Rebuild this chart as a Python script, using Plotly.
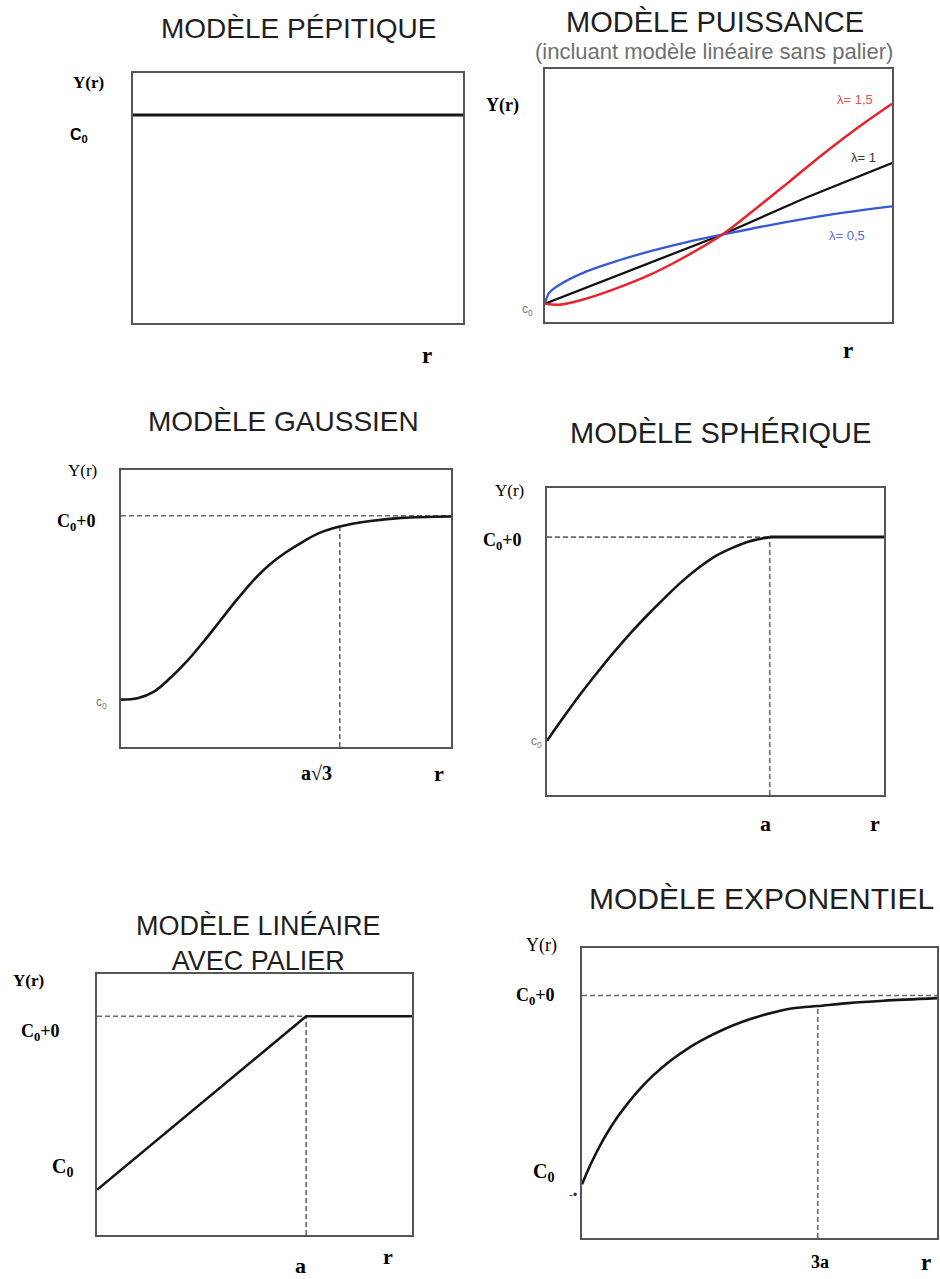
import plotly.graph_objects as go

W, H = 940, 1279

# ---------------- data (normalised 0..1 inside each frame) ----------------
pepitique_x = [0.0, 1.0]
pepitique_y = [0.832, 0.832]

puissance_red_x = [0.0, 0.04, 0.1, 0.2, 0.3, 0.4, 0.51, 0.6, 0.7, 0.8, 0.9, 1.0]
puissance_red_y = [0.072, 0.068, 0.085, 0.13, 0.185, 0.255, 0.345, 0.44, 0.55, 0.662, 0.767, 0.863]
puissance_black_x = [0.0, 0.26, 0.51, 0.75, 1.0]
puissance_black_y = [0.072, 0.21, 0.345, 0.49, 0.628]
puissance_blue_x = [0.0, 0.012, 0.048, 0.12, 0.216, 0.3125, 0.409, 0.51, 0.649, 0.841, 1.0]
puissance_blue_y = [0.072, 0.115, 0.152, 0.2, 0.245, 0.283, 0.316, 0.345, 0.383, 0.428, 0.457]
puissance_labels = ["λ= 1,5", "λ= 1", "λ= 0,5"]

gauss_x = [0.0, 0.05, 0.1, 0.15, 0.2, 0.25, 0.3, 0.35, 0.4, 0.45, 0.5, 0.55, 0.6, 0.663, 0.75, 0.85, 1.0]
gauss_y = [0.171, 0.176, 0.2, 0.25, 0.31, 0.38, 0.455, 0.53, 0.6, 0.658, 0.703, 0.74, 0.772, 0.796, 0.815, 0.827, 0.832]
gauss_sill = 0.835
gauss_range_x = 0.663
gauss_range_y = 0.796

spher_x = [0.0, 0.05, 0.1, 0.15, 0.2, 0.25, 0.3, 0.35, 0.4, 0.45, 0.5, 0.55, 0.6, 0.661]
spher_y = [0.177, 0.255, 0.33, 0.40, 0.467, 0.53, 0.588, 0.643, 0.695, 0.74, 0.778, 0.805, 0.826, 0.840]
spher_plateau_x = [0.661, 1.0]
spher_sill = 0.840
spher_range_x = 0.661

lin_x = [0.0, 0.664, 1.0]
lin_y = [0.173, 0.838, 0.838]
lin_sill = 0.838
lin_range_x = 0.664

expo_x = [0.0, 0.02, 0.04, 0.06, 0.08, 0.1, 0.13, 0.16, 0.2, 0.25, 0.3, 0.35, 0.4, 0.45,
          0.5, 0.55, 0.6, 0.664, 0.75, 0.85, 1.0]
expo_y = [0.185, 0.242, 0.293, 0.339, 0.38, 0.417, 0.466, 0.51, 0.56, 0.612, 0.655, 0.69, 0.72, 0.745,
          0.765, 0.781, 0.793, 0.80, 0.81, 0.818, 0.827]
expo_sill = 0.836
expo_range_x = 0.664
expo_range_y = 0.80

titles = ["MODÈLE PÉPITIQUE", "MODÈLE PUISSANCE", "MODÈLE GAUSSIEN",
          "MODÈLE SPHÉRIQUE", "MODÈLE LINÉAIRE<br>AVEC PALIER", "MODÈLE EXPONENTIEL"]
subtitle = "(incluant modèle linéaire sans palier)"

# ---------------- layout helpers ----------------
boxes = [  # left, top, right, bottom in pixels
    (133, 73, 463, 323),
    (545, 69, 892, 322),
    (121, 470, 451, 747),
    (547, 488, 884, 795),
    (97, 974, 412, 1235),
    (582, 948, 937, 1238),
]

def px(x):
    return x / W

def py(y):
    return 1 - y / H

fig = go.Figure()
layout = dict(width=W, height=H, margin=dict(l=0, r=0, t=0, b=0),
              paper_bgcolor="white", plot_bgcolor="white", showlegend=False)

for i, (l, t, r, b) in enumerate(boxes):
    n = "" if i == 0 else str(i + 1)
    ax = dict(domain=[px(l), px(r)], range=[0, 1], showline=True, mirror=True,
              linecolor="#555555", linewidth=2, showgrid=False, zeroline=False,
              showticklabels=False, ticks="", fixedrange=True)
    layout["xaxis" + n] = dict(ax, anchor="y" + n)
    layout["yaxis" + n] = dict(ax, domain=[py(b), py(t)], anchor="x" + n)

fig.update_layout(**layout)

BLACK = "#151515"
DASH = dict(color="#6a6a6a", width=1.6, dash="5px,3px")

def line(x, y, k, color=BLACK, width=2.6, shape="spline", dash=None):
    ln = dict(color=color, width=width, shape=shape)
    if dash:
        ln = dict(dash)
    fig.add_trace(go.Scatter(x=x, y=y, mode="lines", line=ln,
                             xaxis="x" + ("" if k == 1 else str(k)),
                             yaxis="y" + ("" if k == 1 else str(k)),
                             hoverinfo="skip"))

# Panel 1
line(pepitique_x, pepitique_y, 1, shape="linear", width=3)
# Panel 2
line(puissance_black_x, puissance_black_y, 2, color="#111111", width=2.3, shape="linear")
line(puissance_blue_x, puissance_blue_y, 2, color="#3558d6", width=2.3)
line(puissance_red_x, puissance_red_y, 2, color="#e8232b", width=2.5)
# Panel 3
line([0, 1], [gauss_sill, gauss_sill], 3, dash=DASH)
line([gauss_range_x, gauss_range_x], [0, gauss_range_y], 3, dash=DASH)
line(gauss_x, gauss_y, 3)
# Panel 4
line([0, spher_range_x], [spher_sill, spher_sill], 4, dash=DASH)
line([spher_range_x, spher_range_x], [0, spher_sill], 4, dash=DASH)
line(spher_x, spher_y, 4)
line(spher_plateau_x, [spher_sill, spher_sill], 4, shape="linear", width=3)
# Panel 5
line([0, lin_range_x], [lin_sill, lin_sill], 5, dash=DASH)
line([lin_range_x, lin_range_x], [0, lin_sill], 5, dash=DASH)
line(lin_x, lin_y, 5, shape="linear")
# Panel 6
line([0, 1], [expo_sill, expo_sill], 6, dash=DASH)
line([expo_range_x, expo_range_x], [0, expo_range_y], 6, dash=DASH)
line(expo_x, expo_y, 6)

# ---------------- text ----------------
SANS = "Liberation Sans, Arial, sans-serif"
SERIF = "Liberation Serif, Times New Roman, serif"

def text(s, x, y, size, family=SERIF, color="black", bold=False, xanchor="center"):
    if bold:
        s = "<b>" + s + "</b>"
    fig.add_annotation(text=s, x=px(x), y=py(y), xref="paper", yref="paper",
                       showarrow=False, xanchor=xanchor, yanchor="middle", align="center",
                       font=dict(family=family, size=size, color=color))

TC = "#1e1e1e"
text(titles[0], 298, 28, 28, SANS, TC)
text(titles[1], 715, 22, 29, SANS, TC)
text(subtitle, 714, 51, 22, SANS, "#707070")
text(titles[2], 283, 422, 28, SANS, TC)
text(titles[3], 720, 433, 29, SANS, TC)
text(titles[4], 258, 943, 27, SANS, TC)
text(titles[5], 761, 898, 30, SANS, TC)

# Panel 1 labels
text("Y(r)", 88, 83, 17, bold=True)
text("C<sub>0</sub>", 79, 135, 16, SANS, bold=True)
text("r", 427, 355, 23, bold=True)
# Panel 2 labels
text("Y(r)", 502, 105, 18, bold=True)
text("c<sub>0</sub>", 527, 310, 12, SANS, "#777777")
text("r", 848, 350, 23, bold=True)
text(puissance_labels[0], 855, 100, 13, SANS, "#e45050")
text(puissance_labels[1], 863, 157, 13, SANS, "#333333")
text(puissance_labels[2], 847, 235, 13, SANS, "#5a6fd8")
# Panel 3 labels
text("Y(r)", 82, 470, 17)
text("C<sub>0</sub>+0", 76, 522, 18, bold=True)
text("c<sub>0</sub>", 101, 703, 12, SANS, "#777777")
text("a√3", 316, 773, 20, bold=True)
text("r", 439, 773, 22, bold=True)
# Panel 4 labels
text("Y(r)", 509, 490, 17)
text("C<sub>0</sub>+0", 503, 541, 18, bold=True)
text("c<sub>0</sub>", 536, 742, 12, SANS, "#777777")
text("a", 765, 823, 22, bold=True)
text("r", 875, 823, 22, bold=True)
# Panel 5 labels
text("Y(r)", 28, 980, 17, bold=True)
text("C<sub>0</sub>+0", 40, 1032, 18, bold=True)
text("C<sub>0</sub>", 62, 1167, 20, bold=True)
text("a", 300, 1265, 22, bold=True)
text("r", 388, 1256, 22, bold=True)
# Panel 6 labels
text("Y(r)", 541, 945, 18)
text("C<sub>0</sub>+0", 535, 996, 18, bold=True)
text("C<sub>0</sub>", 543, 1172, 20, bold=True)
text("-•", 573, 1195, 12, SANS, "#333333")
text("3a", 820, 1262, 18, bold=True)
text("r", 926, 1262, 23, bold=True)

fig.write_html("out.html")
